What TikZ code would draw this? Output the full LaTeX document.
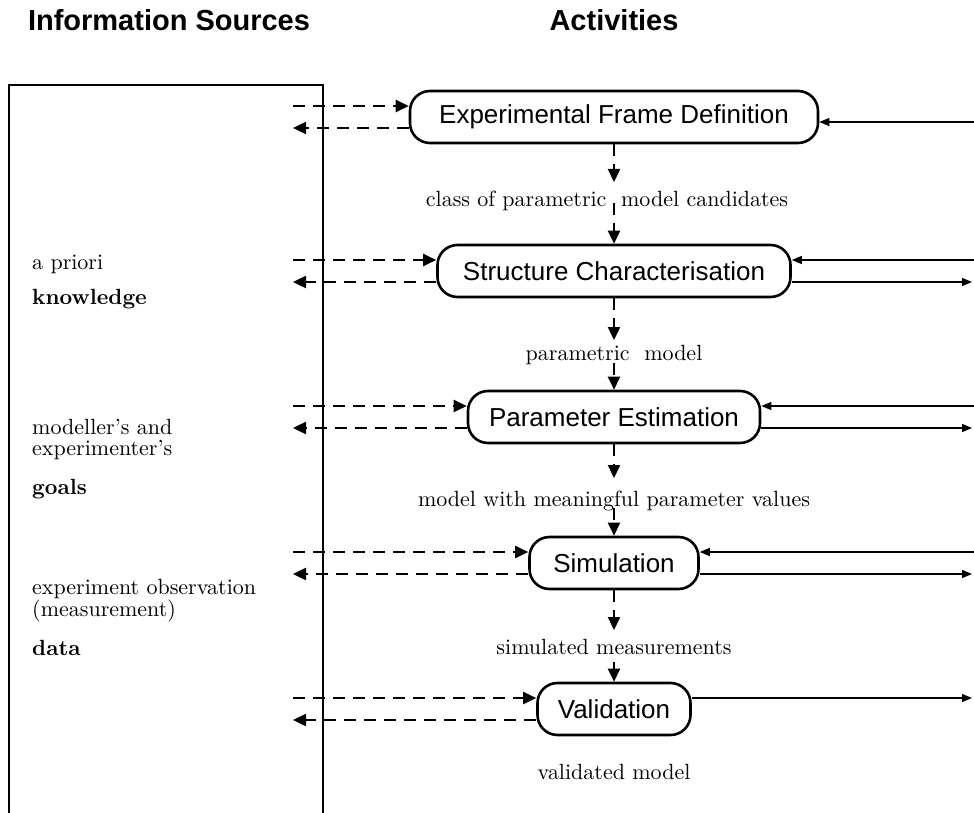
\documentclass[tikz,border=0pt]{standalone}
\usepackage{fontspec}
\newfontfamily\helv{Liberation Sans}
\newfontfamily\schoolbook{lmroman10-regular.otf}[BoldFont=lmroman10-bold.otf, Ligatures=TeX]
\usetikzlibrary{arrows.meta}

\begin{document}
\begin{tikzpicture}[x=1pt,y=-1pt,node distance=146pt,
	activity/.style={draw, line width=2.6pt, rounded corners=20pt, minimum height=52pt, inner sep=0pt, font=\helv\fontsize{26}{30}\selectfont},
	heading/.style={inner sep=0pt, font=\helv\bfseries\fontsize{29}{33}\selectfont},
	product/.style={inner sep=0pt, font=\schoolbook\fontsize{22}{25}\selectfont},
	source/.style={inner sep=0pt, anchor=west, font=\schoolbook\fontsize{22}{25}\selectfont},
	dasharrow/.style={line width=2.4pt, dash pattern=on 12pt off 8pt, -{Triangle[length=13pt,width=12pt]}},
	thinarrow/.style={line width=1.3pt, -{Triangle[length=10pt,width=8pt]}}
]
\useasboundingbox (0,0) rectangle (974,813);

% headings
\node[heading] (srctitle) at (169,20) {Information Sources};
\node[heading] (acttitle) at (614,20) {Activities};

% information sources
\draw[line width=1.3pt] (9,813) -- (9,85) -- (323,85) -- (323,813);
\node[source] (apriori) at (32,264) {a priori};
\node[source] (know) at (32,299) {\bfseries knowledge};
\node[source] (modand) at (32,427) {modeller's and};
\node[source] (exper) at (32,450) {experimenter's};
\node[source] (goals) at (32,489) {\bfseries goals};
\node[source] (expobs) at (32,589) {experiment observation};
\node[source] (meas) at (32,611) {(measurement)};
\node[source] (data) at (32,648) {\bfseries data};

% activities
\node[activity, minimum width=408pt] (efd) at (614,117) {Experimental Frame Definition};
\node[activity, minimum width=353pt, below of=efd, node distance=154pt] (sc) {Structure Characterisation};
\node[activity, minimum width=292pt, below of=sc] (pe) {Parameter Estimation};
\node[activity, minimum width=169pt, below of=pe] (sim) {Simulation};
\node[activity, minimum width=153pt, below of=sim] (val) {Validation};

% products
\node[product, below of=efd, node distance=84pt, xshift=-7pt] (cand) {class of parametric\ \ model candidates};
\node[product, below of=sc, node distance=84pt] (pmod) {parametric\ \ model};
\node[product, below of=pe, node distance=84pt] (mvals) {model with meaningful parameter values};
\node[product, below of=sim, node distance=84pt] (smeas) {simulated measurements};
\node[product, below of=val, node distance=63pt] (vmod) {validated model};

\coordinate (d1) at (614,182);
\coordinate (e1) at (614,203);
\coordinate (d2) at (614,340);
\coordinate (e2) at (614,363);
\coordinate (d3) at (614,478);
\coordinate (e3) at (614,508);
\coordinate (d4) at (614,630);
\coordinate (e4) at (614,662);

\draw[dasharrow] (efd.south) -- (d1);
\draw[dasharrow] (e1) -- (sc.north);
\draw[dasharrow] (sc.south) -- (d2);
\draw[dasharrow] (e2) -- (pe.north);
\draw[dasharrow] (pe.south) -- (d3);
\draw[dasharrow] (e3) -- (sim.north);
\draw[dasharrow] (sim.south) -- (d4);
\draw[dasharrow] (e4) -- (val.north);

% exchange with the information sources
\coordinate (inA) at (293,106);
\coordinate (outA) at (293,128);
\coordinate (inB) at (293,260);
\coordinate (outB) at (293,282);
\coordinate (inC) at (293,406);
\coordinate (outC) at (293,428);
\coordinate (inD) at (293,552);
\coordinate (outD) at (293,574);
\coordinate (inE) at (293,698);
\coordinate (outE) at (293,720);

\draw[dasharrow] (inA) -- ([yshift=11pt]efd.west);
\draw[dasharrow] ([yshift=-11pt]efd.west) -- (outA);
\draw[dasharrow] (inB) -- ([yshift=11pt]sc.west);
\draw[dasharrow] ([yshift=-11pt]sc.west) -- (outB);
\draw[dasharrow] (inC) -- ([yshift=11pt]pe.west);
\draw[dasharrow] ([yshift=-11pt]pe.west) -- (outC);
\draw[dasharrow] (inD) -- ([yshift=11pt]sim.west);
\draw[dasharrow] ([yshift=-11pt]sim.west) -- (outD);
\draw[dasharrow] (inE) -- ([yshift=11pt]val.west);
\draw[dasharrow] ([yshift=-11pt]val.west) -- (outE);

% links to the right
\coordinate (rA) at (974,122);
\coordinate (rBin) at (974,260);
\coordinate (rBout) at (972,282);
\coordinate (rCin) at (974,406);
\coordinate (rCout) at (972,428);
\coordinate (rDin) at (974,552);
\coordinate (rDout) at (972,574);
\coordinate (rEout) at (972,698);

\draw[thinarrow] (rA) -- ([yshift=-5pt]efd.east);
\draw[thinarrow] (rBin) -- ([yshift=11pt]sc.east);
\draw[thinarrow] ([yshift=-11pt]sc.east) -- (rBout);
\draw[thinarrow] (rCin) -- ([yshift=11pt]pe.east);
\draw[thinarrow] ([yshift=-11pt]pe.east) -- (rCout);
\draw[thinarrow] (rDin) -- ([yshift=11pt]sim.east);
\draw[thinarrow] ([yshift=-11pt]sim.east) -- (rDout);
\draw[thinarrow] ([yshift=11pt]val.east) -- (rEout);
\end{tikzpicture}
\end{document}
